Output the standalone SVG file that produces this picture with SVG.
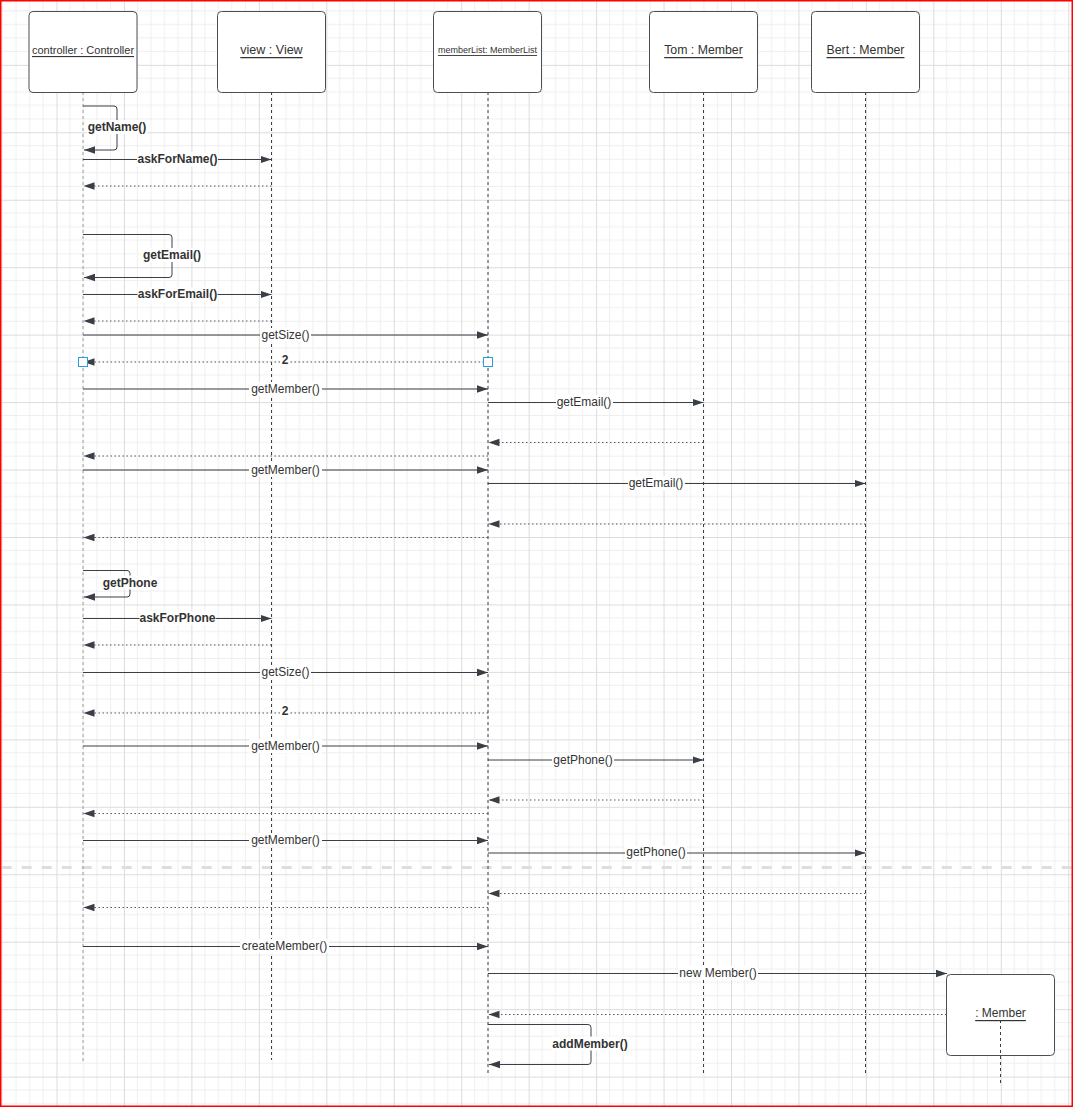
<svg xmlns="http://www.w3.org/2000/svg" width="1073" height="1107" viewBox="0 0 1073 1107">
<style>
.box{fill:#fff;stroke:#4a4f57;stroke-width:1}
.hdr{font-family:"Liberation Sans",Arial,sans-serif;fill:#333;text-anchor:middle;dominant-baseline:central;text-decoration:underline}
.life{fill:none;stroke:#3a3f47;stroke-width:1;stroke-dasharray:3 3}
.msg{fill:none;stroke:#3a3f47;stroke-width:1;marker-end:url(#ah)}
.ret{fill:none;stroke:#555b63;stroke-width:1;stroke-dasharray:1.5 2.5;marker-end:url(#ah)}
.lbl{font-family:"Liberation Sans",Arial,sans-serif;font-size:12px;fill:#333;text-anchor:middle;dominant-baseline:central}
.b{font-weight:bold}
.bg{fill:#fff}
</style>
<defs>
<pattern id="grid" x="56.5" y="64.85" width="67.45" height="67.45" patternUnits="userSpaceOnUse">
<path d="M13.49,0V67.45M26.98,0V67.45M40.47,0V67.45M53.96,0V67.45M0,13.49H67.45M0,26.98H67.45M0,40.47H67.45M0,53.96H67.45" stroke="#efefef" stroke-width="1" fill="none"/>
<path d="M0.5,0V67.45M0,0.5H67.45" stroke="#dcdcdc" stroke-width="1" fill="none"/>
</pattern>
<marker id="ah" markerWidth="12" markerHeight="9" refX="11" refY="4.5" orient="auto" markerUnits="userSpaceOnUse">
<path d="M0,0.8 L11,4.5 L0,8.2 z" fill="#3a3f47"/>
</marker>
</defs>
<rect x="0" y="0" width="1073" height="1107" fill="#fff"/>
<rect x="0" y="0" width="1073" height="1107" fill="url(#grid)"/>
<line x1="1.7" y1="867.5" x2="1073" y2="867.5" stroke="#dedede" stroke-width="3" stroke-dasharray="10 10"/>

<g id="lifelines">
<line x1="83" y1="92" x2="83" y2="1063" stroke="#9a9a9a" stroke-width="1" stroke-dasharray="3 3"/>
<line class="life" x1="271.5" y1="92" x2="271.5" y2="1060"/>
<line class="life" x1="488" y1="92" x2="488" y2="1075"/>
<line class="life" x1="703.5" y1="92" x2="703.5" y2="1074"/>
<line class="life" x1="865.5" y1="92" x2="865.5" y2="1074"/>
</g>

<g id="controller"><rect class="box" x="29" y="11.5" width="108" height="81" rx="4"/><text class="hdr" x="83" y="50" font-size="11">controller : Controller</text></g>
<g id="view"><rect class="box" x="217.5" y="11.5" width="108" height="81" rx="4"/><text class="hdr" x="271.5" y="50" font-size="12.5">view : View</text></g>
<g id="memberList"><rect class="box" x="433.5" y="11.5" width="108" height="81" rx="4"/><text class="hdr" x="487.5" y="50" font-size="9">memberList: MemberList</text></g>
<g id="tom"><rect class="box" x="649.5" y="11.5" width="108" height="81" rx="4"/><text class="hdr" x="703.5" y="50" font-size="12.3">Tom : Member</text></g>
<g id="bert"><rect class="box" x="811.5" y="11.5" width="108" height="81" rx="4"/><text class="hdr" x="865.5" y="50" font-size="12.3">Bert : Member</text></g>
<g id="newMember"><rect class="box" x="946.5" y="974.5" width="108" height="81" rx="4"/><line class="life" x1="1000.5" y1="1020" x2="1000.5" y2="1083"/><text class="hdr" x="1000.5" y="1013" font-size="12">: Member</text></g>

<g id="connectors">
<path class="msg" d="M83,106 H114 Q117,106 117,109 V147 Q117,150 114,150 H84"/>
<line class="msg" x1="83" y1="159.5" x2="271.5" y2="159.5"/>
<line class="ret" x1="271.5" y1="186" x2="83.5" y2="186"/>
<path class="msg" d="M83,234.5 H169 Q172,234.5 172,237.5 V274.5 Q172,277.5 169,277.5 H84"/>
<line class="msg" x1="83" y1="294.5" x2="271.5" y2="294.5"/>
<line class="ret" x1="271.5" y1="321" x2="83.5" y2="321"/>
<line class="msg" x1="83" y1="335" x2="488" y2="335"/>
<line class="ret" x1="488" y1="362" x2="83.5" y2="362"/>
<line class="msg" x1="83" y1="389" x2="488" y2="389"/>
<line class="msg" x1="488" y1="402.5" x2="703.5" y2="402.5"/>
<line class="ret" x1="703.5" y1="442.5" x2="488.5" y2="442.5"/>
<line class="ret" x1="488" y1="456" x2="83.5" y2="456"/>
<line class="msg" x1="83" y1="470" x2="488" y2="470"/>
<line class="msg" x1="488" y1="483.5" x2="865.5" y2="483.5"/>
<line class="ret" x1="865.5" y1="524" x2="488.5" y2="524"/>
<line class="ret" x1="488" y1="537.5" x2="83.5" y2="537.5"/>
<path class="msg" d="M83,570.5 H127 Q130,570.5 130,573.5 V594 Q130,597 127,597 H84"/>
<line class="msg" x1="83" y1="618.5" x2="271.5" y2="618.5"/>
<line class="ret" x1="271.5" y1="645" x2="83.5" y2="645"/>
<line class="msg" x1="83" y1="672.5" x2="488" y2="672.5"/>
<line class="ret" x1="488" y1="713" x2="83.5" y2="713"/>
<line class="msg" x1="83" y1="746" x2="488" y2="746"/>
<line class="msg" x1="488" y1="760" x2="703.5" y2="760"/>
<line class="ret" x1="703.5" y1="800" x2="488.5" y2="800"/>
<line class="ret" x1="488" y1="813.5" x2="83.5" y2="813.5"/>
<line class="msg" x1="83" y1="840.5" x2="488" y2="840.5"/>
<line class="msg" x1="488" y1="853" x2="865.5" y2="853"/>
<line class="ret" x1="865.5" y1="893.5" x2="488.5" y2="893.5"/>
<line class="ret" x1="488" y1="907.5" x2="83.5" y2="907.5"/>
<line class="msg" x1="83" y1="946.5" x2="488" y2="946.5"/>
<line class="msg" x1="488" y1="973.5" x2="947" y2="973.5"/>
<line class="ret" x1="946.5" y1="1014.5" x2="488.5" y2="1014.5"/>
<path class="msg" d="M488,1024.5 H588 Q591,1024.5 591,1027.5 V1061.5 Q591,1064.5 588,1064.5 H489"/>
</g>

<g id="labels">
<rect class="bg" x="87" y="120" width="60" height="14"/><text class="lbl b" x="117" y="127">getName()</text>
<rect class="bg" x="137" y="152.5" width="81" height="14"/><text class="lbl b" x="177.5" y="159">askForName()</text>
<rect class="bg" x="141" y="248" width="62" height="14"/><text class="lbl b" x="172" y="255">getEmail()</text>
<rect class="bg" x="137.5" y="287.5" width="80" height="14"/><text class="lbl b" x="177.5" y="294">askForEmail()</text>
<rect class="bg" x="260" y="328" width="51" height="14"/><text class="lbl" x="285.5" y="334.5">getSize()</text>
<rect class="bg" x="280" y="353" width="10" height="14"/><text class="lbl b" x="285" y="360">2</text>
<rect class="bg" x="249" y="382" width="73" height="14"/><text class="lbl" x="285.5" y="388.5">getMember()</text>
<rect class="bg" x="556" y="395" width="57" height="14"/><text class="lbl" x="584" y="401.5">getEmail()</text>
<rect class="bg" x="249" y="463" width="73" height="14"/><text class="lbl" x="285.5" y="469.5">getMember()</text>
<rect class="bg" x="628" y="476.5" width="57" height="14"/><text class="lbl" x="656" y="483">getEmail()</text>
<rect class="bg" x="102" y="575.5" width="56" height="14"/><text class="lbl b" x="130" y="582.5">getPhone</text>
<rect class="bg" x="139.5" y="611" width="76" height="14"/><text class="lbl b" x="177.5" y="617.5">askForPhone</text>
<rect class="bg" x="260" y="665" width="51" height="14"/><text class="lbl" x="285.5" y="671.5">getSize()</text>
<rect class="bg" x="280" y="704" width="10" height="14"/><text class="lbl b" x="285" y="711">2</text>
<rect class="bg" x="249" y="739" width="73" height="14"/><text class="lbl" x="285.5" y="745.5">getMember()</text>
<rect class="bg" x="552" y="753" width="62" height="14"/><text class="lbl" x="583" y="759.5">getPhone()</text>
<rect class="bg" x="249" y="833" width="73" height="14"/><text class="lbl" x="285.5" y="839.5">getMember()</text>
<rect class="bg" x="625" y="846" width="62" height="14"/><text class="lbl" x="656" y="852">getPhone()</text>
<rect class="bg" x="240" y="939" width="89" height="14"/><text class="lbl" x="284.5" y="945.5">createMember()</text>
<rect class="bg" x="678" y="966" width="80" height="14"/><text class="lbl" x="718" y="972.5">new Member()</text>
<rect class="bg" x="552" y="1036.5" width="76" height="14"/><text class="lbl b" x="590" y="1043.5">addMember()</text>
</g>

<g id="handles">
<rect x="78.5" y="357.5" width="9" height="9" fill="#fff" stroke="#2b9be0" stroke-width="1"/>
<rect x="483.5" y="357.5" width="9" height="9" fill="#fff" stroke="#2b9be0" stroke-width="1"/>
</g>
<rect x="0.75" y="0.75" width="1071.5" height="1105.5" fill="none" stroke="#ff0000" stroke-width="1.5"/>
</svg>
